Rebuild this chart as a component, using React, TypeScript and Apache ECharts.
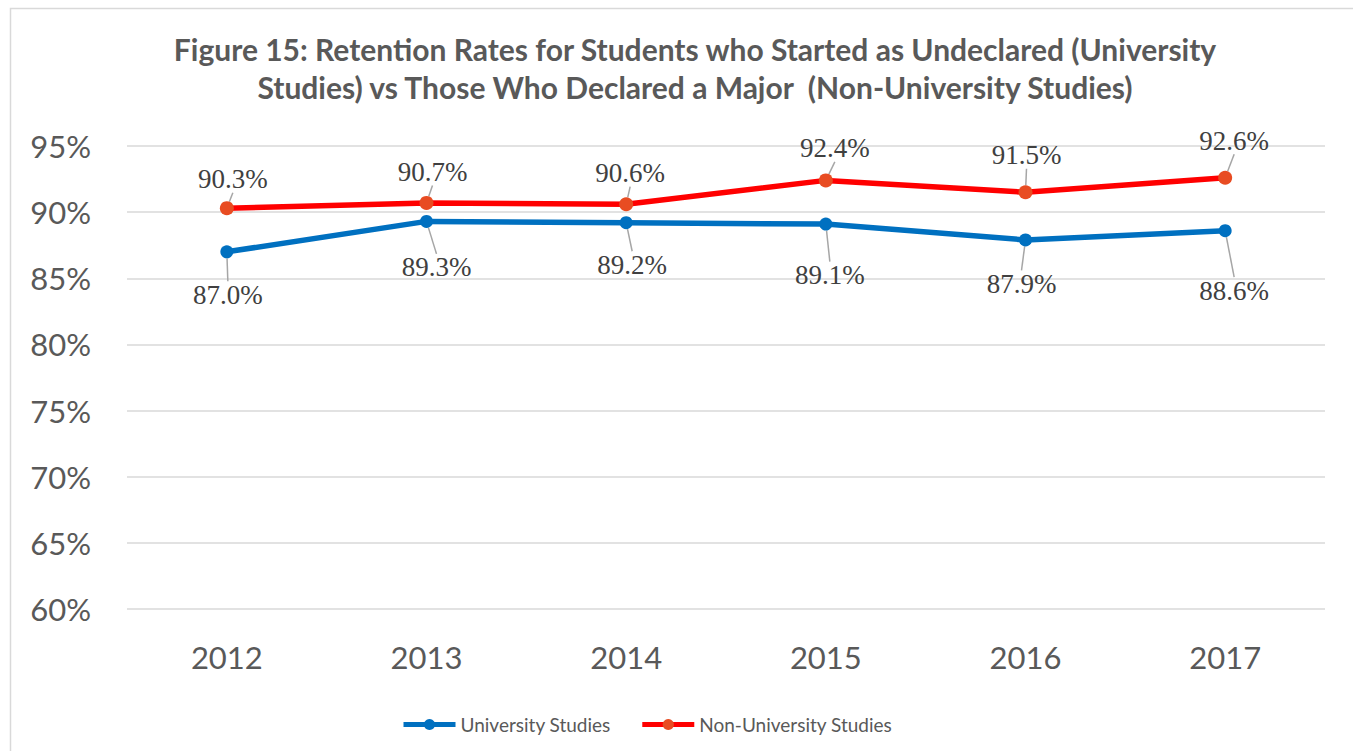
import React, { useEffect, useRef } from 'react';
import * as echarts from 'echarts';

const years = ['2012', '2013', '2014', '2015', '2016', '2017'];
const universityStudies = [87.0, 89.3, 89.2, 89.1, 87.9, 88.6];
const nonUniversityStudies = [90.3, 90.7, 90.6, 92.4, 91.5, 92.6];
const yMin = 60;
const yMax = 95;
const yStep = 5;
const titleLine1 = 'Figure 15: Retention Rates for Students who Started as Undeclared (University';
const titleLine2 = 'Studies) vs Those Who Declared a Major  (Non-University Studies)';
const seriesNames = ['University Studies', 'Non-University Studies'];

// label offsets (layout only) relative to each point
const uniLabelOffsets = [[1, 43], [10, 46], [6, 42], [4, 51], [-4, 44], [9, 60]];
const nonUniLabelOffsets = [[6, -29], [6, -31], [4, -31], [9, -32], [1, -37], [9, -37]];

const SANS = 'Lato, "Open Sans", sans-serif';

export default function App() {
  const ref = useRef<HTMLDivElement>(null);
  useEffect(() => {
    if (!ref.current) return;
    const chart = echarts.init(ref.current, null, { renderer: 'svg' });
    const mkLayout = (offs: number[][]) => (p: any) => {
      const o = offs[p.dataIndex] || [0, 0];
      return {
        x: p.rect.x + p.rect.width / 2 + o[0],
        y: p.rect.y + p.rect.height / 2 + o[1],
        align: 'center',
        verticalAlign: 'middle',
      };
    };
    const labelCommon = {
      show: true,
      position: 'inside',
      formatter: (p: any) => Number(p.value).toFixed(1) + '%',
      fontFamily: '"Liberation Serif", "Times New Roman", serif',
      fontSize: 27,
      color: '#404040',
    };
    const labelLine = { show: true, lineStyle: { color: '#A6A6A6', width: 1.5 } };
    chart.setOption({
      animation: false,
      backgroundColor: '#ffffff',
      graphic: [
        {
          type: 'rect',
          shape: { x: 10.5, y: 8.5, width: 1400, height: 800 },
          style: { fill: 'none', stroke: '#D9D9D9', lineWidth: 1.5 },
          silent: true,
        },
        {
          type: 'text',
          x: 695,
          y: 49,
          style: {
            text: titleLine1,
            fill: '#595959',
            font: `bold 30px ${SANS}`,
            textAlign: 'center',
            textVerticalAlign: 'middle',
          },
        },
        {
          type: 'text',
          x: 695,
          y: 87,
          style: {
            text: titleLine2,
            fill: '#595959',
            font: `bold 30px ${SANS}`,
            textAlign: 'center',
            textVerticalAlign: 'middle',
          },
        },
      ],
      grid: { left: 127, right: 28, top: 146, bottom: 142, containLabel: false },
      legend: {
        left: 396,
        top: 710,
        itemWidth: 52,
        itemHeight: 14,
        itemGap: 29,
        lineStyle: { width: 5 },
        textStyle: { color: '#595959', fontSize: 19, fontFamily: SANS },
        data: seriesNames,
      },
      xAxis: {
        type: 'category',
        data: years,
        boundaryGap: true,
        axisLine: { show: false },
        axisTick: { show: false },
        axisLabel: { color: '#595959', fontSize: 31, fontFamily: SANS, margin: 32 },
      },
      yAxis: {
        type: 'value',
        min: yMin,
        max: yMax,
        interval: yStep,
        axisLine: { show: false },
        axisTick: { show: false },
        splitLine: { lineStyle: { color: '#D9D9D9', width: 1.5 } },
        axisLabel: {
          formatter: '{value}%',
          color: '#595959',
          fontSize: 31,
          fontFamily: SANS,
          margin: 36,
        },
      },
      series: [
        {
          name: seriesNames[0],
          type: 'line',
          data: universityStudies,
          symbol: 'circle',
          symbolSize: 13,
          z: 3,
          lineStyle: { color: '#0070C0', width: 5.5 },
          itemStyle: { color: '#0070C0' },
          label: labelCommon,
          labelLine,
          labelLayout: mkLayout(uniLabelOffsets),
        },
        {
          name: seriesNames[1],
          type: 'line',
          data: nonUniversityStudies,
          symbol: 'circle',
          symbolSize: 14,
          z: 3,
          lineStyle: { color: '#FF0000', width: 5.5 },
          itemStyle: { color: '#E84C22' },
          label: labelCommon,
          labelLine,
          labelLayout: mkLayout(nonUniLabelOffsets),
        },
      ],
    });
    return () => chart.dispose();
  }, []);
  return (
    <div
      ref={ref}
      style={{ position: 'fixed', left: 0, top: 0, width: 1353, height: 751, background: '#fff' }}
    />
  );
}
